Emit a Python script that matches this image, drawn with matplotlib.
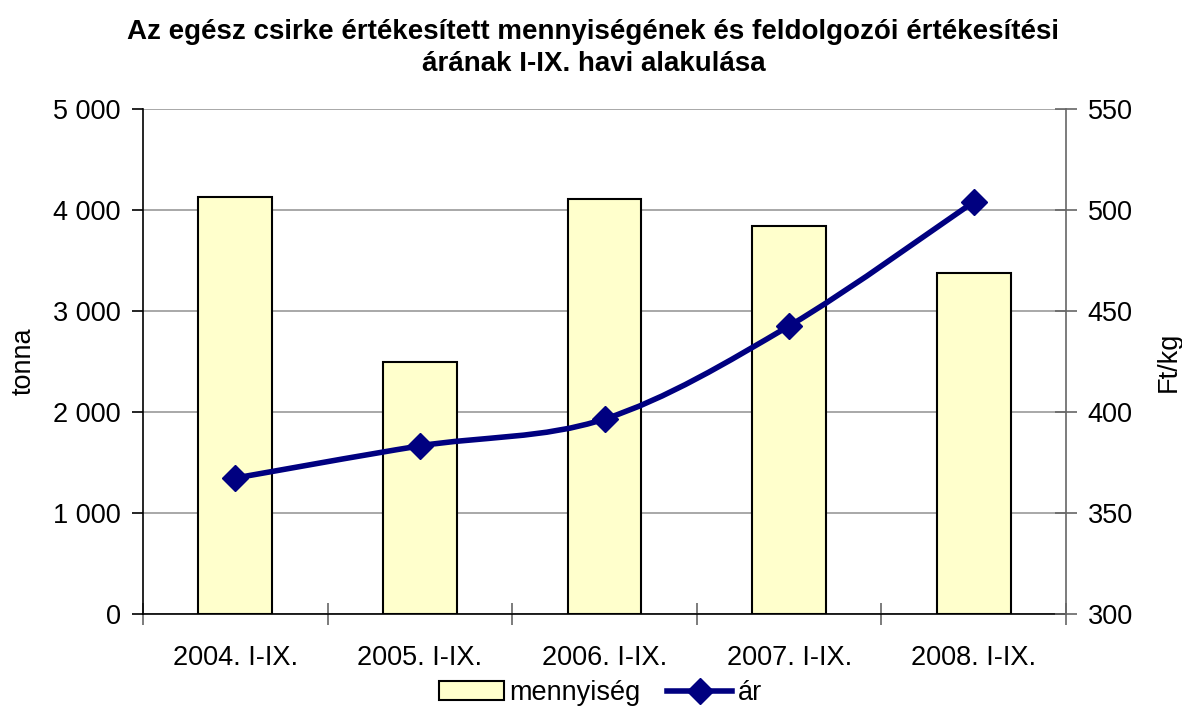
import matplotlib
matplotlib.use("Agg")
import matplotlib.pyplot as plt
from matplotlib.path import Path
from matplotlib.patches import PathPatch, Patch
from matplotlib.lines import Line2D
import numpy as np

plt.rcParams['font.family'] = ['Liberation Sans', 'DejaVu Sans']

categories = ["2004. I-IX.", "2005. I-IX.", "2006. I-IX.", "2007. I-IX.", "2008. I-IX."]
mennyiseg = [4130, 2495, 4110, 3842, 3376]
ar = [367.3, 383.2, 396.5, 442.6, 504.0]
left_ticks = [0, 1000, 2000, 3000, 4000, 5000]
left_labels = ["0", "1 000", "2 000", "3 000", "4 000", "5 000"]
right_ticks = [300, 350, 400, 450, 500, 550]

FS = 19.5
fig = plt.figure(figsize=(11.82, 7.15), dpi=100)
ax = fig.add_axes([0.121, 0.1413, 0.7809, 0.7063])
ax2 = ax.twinx()

x = np.arange(len(categories))
ax.bar(x, mennyiseg, width=0.4, color="#FFFFCC", edgecolor="black", linewidth=1.5, zorder=2)
ax.set_xlim(-0.5, len(categories) - 0.5)
ax.set_ylim(0, 5000)
ax.set_yticks(left_ticks)
ax.set_yticklabels(left_labels, fontsize=FS)
ax.yaxis.grid(True, color="#999999", linewidth=1.2, zorder=0)
ax.set_axisbelow(True)
ax.set_xticks(np.arange(len(categories) + 1) - 0.5)
ax.set_xticklabels([])
ax.set_xticks(x, minor=True)
ax.set_xticklabels(categories, minor=True, fontsize=FS)
ax.tick_params(axis='x', which='major', direction='inout', length=16, width=1.2, color="#666666")
ax.tick_params(axis='x', which='minor', length=0, pad=22)
ax.tick_params(axis='y', direction='out', length=8, width=1.2, pad=8)
ax.set_ylabel("tonna", fontsize=FS, labelpad=11.5)
for s in ["top", "right"]:
    ax.spines[s].set_visible(False)
ax.spines["left"].set_linewidth(1.2)
ax.spines["bottom"].set_linewidth(1.2)

ax2.set_ylim(300, 550)
ax2.set_yticks(right_ticks)
ax2.set_yticklabels([str(t) for t in right_ticks], fontsize=FS)
ax2.tick_params(axis='y', direction='inout', length=16, width=1.2, color="#666666", pad=7.7)
for s in ["top", "left", "bottom"]:
    ax2.spines[s].set_visible(False)
ax2.spines["right"].set_color("#666666")
ax2.spines["right"].set_linewidth(1.2)
ax2.set_ylabel("Ft/kg", fontsize=FS, labelpad=16)

# smoothed line (Catmull-Rom style bezier through the data points)
pts = np.column_stack([x, ar]).astype(float)
verts = [tuple(pts[0])]
codes = [Path.MOVETO]
n = len(pts)
for i in range(n - 1):
    p0 = pts[i - 1] if i > 0 else pts[i]
    p1 = pts[i]
    p2 = pts[i + 1]
    p3 = pts[i + 2] if i + 2 < n else pts[i + 1]
    c1 = p1 + (p2 - p0) / 6.0
    c2 = p2 - (p3 - p1) / 6.0
    verts += [tuple(c1), tuple(c2), tuple(p2)]
    codes += [Path.CURVE4] * 3
ax2.add_patch(PathPatch(Path(verts, codes), facecolor="none", edgecolor="#000080", linewidth=4, zorder=3, capstyle="round"))
ax2.plot(x, ar, linestyle="none", marker="D", markersize=13, color="#000080", zorder=4)

fig.suptitle("Az egész csirke értékesített mennyiségének és feldolgozói értékesítési\nárának I-IX. havi alakulása",
             fontsize=20, fontweight="bold", y=0.973, x=0.502, linespacing=1.28)

handles = [Patch(facecolor="#FFFFCC", edgecolor="black", linewidth=1.5),
           Line2D([], [], color="#000080", linewidth=4, marker="D", markersize=13)]
fig.legend(handles, ["mennyiség", "ár"], loc="lower center", bbox_to_anchor=(0.508, -0.022), ncol=2,
           frameon=False, fontsize=FS, handlelength=2.4, handletextpad=0.2, columnspacing=1.0)

fig.savefig("out.png", dpi=100)
